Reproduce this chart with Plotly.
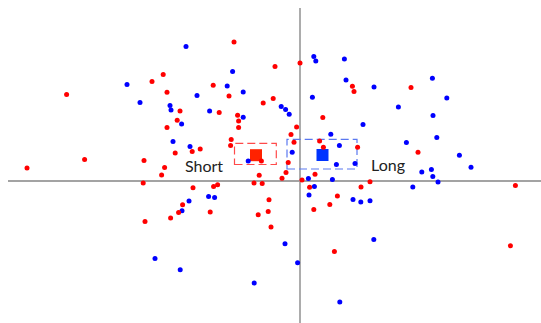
import plotly.graph_objects as go

# Short positions (red) and long positions (blue): x = return spread, y = momentum score
short_x = [-68.4, -74, -116.7, -66.5, -60, -61.4, -66.5, -62.4, -136.5, -107.7,
           -78, -67.7, -69.2, -78.4, -60.7, -64.7, -77.5, -33, 0, -12.5,
           26.2, 27, -43.4, -35.5, -13.4, -18.4, -40.4, -31.2, -30.7, -30.7,
           11.4, -1.7, -4.5, -34.4, -34.7, -3, 9.8, 11.7, 28.8, -53.9,
           -49.9, 55.5, 59, -19.3, -5.9, -20.4, -7, -9, -23, -18.9,
           -53.5, -43.2, -41.2, -58.7, -44.9, -15.5, -15.9, -20.9, -14.5, 1,
           4.8, 18.7, 14.9, 6.9, 17.2, 7.5, 35, 30.5, 107.7, 105.2]
short_y = [53.2, 49.7, 43.2, 44.4, 35, 30.4, 26.7, 14, 6.5, 10.8,
           10.3, 6.7, 3, -1, -15.7, -18.5, -20.2, 69.5, 59, 57.2,
           47.4, 44.7, 47.9, 42.5, 41.2, 39, 34.2, 32.9, 30, 26.7,
           31.7, 27, 23.3, 20.8, 17.7, 19.4, 20, 16.9, 16.9, 14.7,
           16, 46.7, 14.4, 10, 9.2, 2.9, 4.2, 1.4, -1, -1.2,
           -3.4, -2.7, -1.9, -11.9, -15.5, -9.4, -15.2, -16.9, -23, 0.5,
           -3.1, -7.5, -11.7, -14.2, -35.2, 3.4, -0.4, -3, -2.2, -32.4]

long_x = [-86.5, -80, -65, -64.5, -63.5, -57, 6.9, 7.9, 22.2, -33.7,
          23, -36.4, -51.5, -28.4, 6.2, -45.2, -9.4, -7.2, -5.4, -28.4,
          -59.2, 15.4, 19.7, -55, -3.9, 66.2, 37, 73.4, 49.2, 66.5,
          31.5, 68.4, 53.2, 79.7, -25.9, -45.7, -42.7, -55.5, -59, -7.5,
          -1.2, -59.9, -72.5, -22.9, 18.2, 27.5, 4.2, 16.2, 7.2, 4.5,
          26.5, 19.9, 85.5, 60.9, 65.7, 66.4, 69, 56.4, 30.4, 35, 36.9]
long_y = [48.2, 39.2, 37.7, 35.5, 19.7, 67.2, 62.2, 60, 61, 54.7,
          50.5, 47.5, 42.7, 44.5, 41.9, 35, 37.2, 35.7, 33.4, 31.9,
          28.5, 23.4, 17.7, 17.2, 14.4, 51.4, 47, 41.5, 37, 32.7,
          28.2, 21.7, 19.2, 12.9, 10, -7.7, -8.2, -10, -14.9, -31.4,
          -40.9, -44.4, -38.7, -51, 8.2, 8.8, 1.2, 0.8, -2.8, -7,
          -9.2, -60.5, 6.9, 4.5, 5.7, 2.2, -0.5, -3, -10.5, -9.9, -29.2]

# Group centres and the extent of the dashed box around each
group_names = ["Short", "Long"]
centre_x = [-22, 11.25]
centre_y = [12.9, 13]
box_x0 = [-32.75, -6.5]
box_x1 = [-11.85, 28.5]
box_y0 = [8.25, 6]
box_y1 = [18.85, 20.85]

RED = "#ff0000"
BLUE = "#0000ff"
AXIS = "#a3a3a3"

fig = go.Figure()

# Group centre squares
fig.add_trace(go.Scatter(
    x=[centre_x[0]], y=[centre_y[0]], mode="markers",
    marker=dict(symbol="square", size=12, color="#ff2200"),
    hoverinfo="skip", showlegend=False))
fig.add_trace(go.Scatter(
    x=[centre_x[1]], y=[centre_y[1]], mode="markers",
    marker=dict(symbol="square", size=12, color="#0033ff"),
    hoverinfo="skip", showlegend=False))

fig.add_trace(go.Scatter(x=long_x, y=long_y, mode="markers", name="Long",
                         marker=dict(size=5, color=BLUE, line=dict(width=0)),
                         showlegend=False))
fig.add_trace(go.Scatter(x=short_x, y=short_y, mode="markers", name="Short",
                         marker=dict(size=5, color=RED, line=dict(width=0)),
                         showlegend=False))

shapes = [
    # cross-hair axes
    dict(type="line", xref="x", yref="y", x0=0, x1=0, y0=86.5, y1=-90,
         line=dict(color=AXIS, width=1.8), layer="below"),
    dict(type="line", xref="x", yref="y", x0=-146, x1=140, y0=0, y1=0,
         line=dict(color=AXIS, width=1.8), layer="below"),
]
box_colors = ["#ff4a4a", "#5a78f0"]
for i in range(2):
    shapes.append(dict(type="rect", xref="x", yref="y",
                       x0=box_x0[i], x1=box_x1[i], y0=box_y0[i], y1=box_y1[i],
                       line=dict(color=box_colors[i], width=1.2, dash="8px,4px"),
                       fillcolor="rgba(0,0,0,0)", layer="below"))

annotations = [
    dict(x=-37.3, y=7.6, xref="x", yref="y", text=group_names[0], showarrow=False,
         xanchor="right", yanchor="middle",
         font=dict(family="Lato", size=16, color="#222222")),
    dict(x=34.6, y=8.1, xref="x", yref="y", text=group_names[1], showarrow=False,
         xanchor="left", yanchor="middle",
         font=dict(family="Lato", size=16, color="#222222")),
]

fig.update_layout(
    width=541, height=323,
    margin=dict(l=0, r=0, t=0, b=0),
    paper_bgcolor="white", plot_bgcolor="white",
    xaxis=dict(range=[-150, 120.5], visible=False, fixedrange=True),
    yaxis=dict(range=[-71, 90.5], visible=False, fixedrange=True),
    shapes=shapes, annotations=annotations,
    showlegend=False,
)

fig.write_html("out.html")
